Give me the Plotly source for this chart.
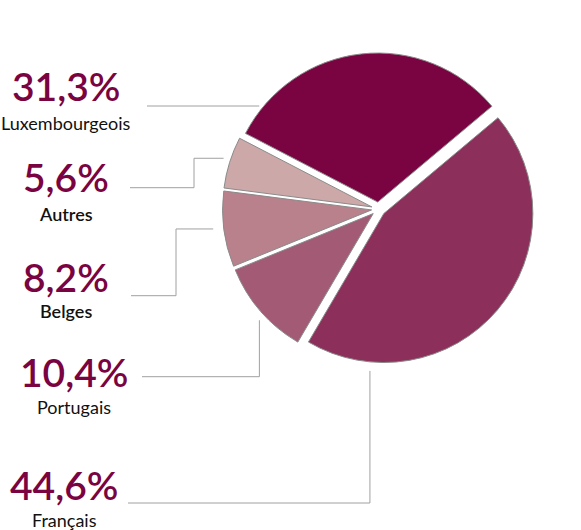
import math
import plotly.graph_objects as go

# data
labels = ["Français", "Portugais", "Belges", "Autres", "Luxembourgeois"]
values = [44.6, 10.4, 8.2, 5.6, 31.3]
colors = ["#8c2f5a", "#a35a75", "#b8818b", "#cca9a8", "#7a0441"]
bold_names = ["Autres", "Belges"]

W, H = 581, 530
PIE_CX, PIE_CY, PIE_R = 378.5, 209, 149
PULL = 0.047
ROTATION = 50

# label layout (pixels): text centre x, percent centre y, name centre y
label_pos = {
    "Luxembourgeois": dict(x=66, py=86, ny=122.5),
    "Autres": dict(x=66, py=177, ny=214),
    "Belges": dict(x=66, py=277, ny=311),
    "Portugais": dict(x=74, py=372, ny=407),
    "Français": dict(x=64, py=485, ny=520),
}
# leader lines: where on the slice (fraction of its angle), gap off the arc,
# start x, row y, elbow x, last segment direction
leaders = {
    "Luxembourgeois": dict(frac=0.103, gap=3.5, x0=147, row=None, elbow=None, end="h"),
    "Autres": dict(frac=0.54, gap=7, x0=130, row=187.7, elbow=194, end="h"),
    "Belges": dict(frac=0.52, gap=10.5, x0=131, row=295.7, elbow=176, end="h"),
    "Portugais": dict(frac=0.44, gap=7, x0=142, row=376.7, elbow=None, end="v"),
    "Français": dict(frac=0.842, gap=9, x0=128, row=503, elbow=None, end="v"),
}

LINE_COLOR = "#a0a0a0"
PCT_COLOR = "#7a0441"
FONT = "Lato"


def px(x, y):
    return x / W, 1 - y / H


def slice_geometry():
    total = sum(values)
    angle = ROTATION
    geo = {}
    for lab, v in zip(labels, values):
        span = v / total * 360
        mid = math.radians(angle + span / 2)
        shift = PULL * PIE_R
        cx = PIE_CX + shift * math.sin(mid)
        cy = PIE_CY - shift * math.cos(mid)
        geo[lab] = (angle, span, cx, cy)
        angle += span
    return geo


half = PIE_R * (1 + PULL)
x_lo, y_hi = px(PIE_CX - half, PIE_CY - half)
x_hi, y_lo = px(PIE_CX + half, PIE_CY + half)

fig = go.Figure(go.Pie(
    labels=labels, values=values, sort=False, direction="clockwise",
    rotation=ROTATION, pull=PULL, textinfo="none", hoverinfo="skip",
    marker=dict(colors=colors, line=dict(color="#8a8a8a", width=1)),
    domain=dict(x=[x_lo, x_hi], y=[y_lo, y_hi]), showlegend=False,
))

geo = slice_geometry()
shapes = []


def seg(p1, p2):
    x0, y0 = px(*p1)
    x1, y1 = px(*p2)
    shapes.append(dict(type="line", xref="paper", yref="paper", x0=x0, y0=y0, x1=x1, y1=y1,
                       line=dict(color=LINE_COLOR, width=1)))


for lab, ld in leaders.items():
    start, span, cx, cy = geo[lab]
    a = math.radians(start + ld["frac"] * span)
    ax = cx + (PIE_R + ld["gap"]) * math.sin(a)
    ay = cy - (PIE_R + ld["gap"]) * math.cos(a)
    row = ld["row"] if ld["row"] is not None else ay
    if ld["end"] == "h":
        if ld["elbow"] is None:
            seg((ld["x0"], ay), (ax, ay))
        else:
            seg((ld["x0"], row), (ld["elbow"], row))
            seg((ld["elbow"], row), (ld["elbow"], ay))
            seg((ld["elbow"], ay), (ax, ay))
    else:
        seg((ld["x0"], row), (ax, row))
        seg((ax, row), (ax, ay))

annotations = []
for lab, v in zip(labels, values):
    pos = label_pos[lab]
    x, y = px(pos["x"], pos["py"])
    annotations.append(dict(
        x=x, y=y, xref="paper", yref="paper", xanchor="center", yanchor="middle",
        text=f"{v:.1f}".replace(".", ",") + "%", showarrow=False,
        font=dict(family=FONT, size=39, color=PCT_COLOR, weight=600)))
    x, y = px(pos["x"], pos["ny"])
    annotations.append(dict(
        x=x, y=y, xref="paper", yref="paper", xanchor="center", yanchor="middle",
        text=lab, showarrow=False,
        font=dict(family=FONT, size=18, color="#111111",
                  weight=600 if lab in bold_names else 400)))

fig.update_layout(
    width=W, height=H, margin=dict(l=0, r=0, t=0, b=0),
    paper_bgcolor="white", plot_bgcolor="white",
    shapes=shapes, annotations=annotations,
)

# drop the default body margin so the chart fills the window
fig.write_html("out.html", config={"displayModeBar": False},
               post_script="document.body.style.margin = '0';")
